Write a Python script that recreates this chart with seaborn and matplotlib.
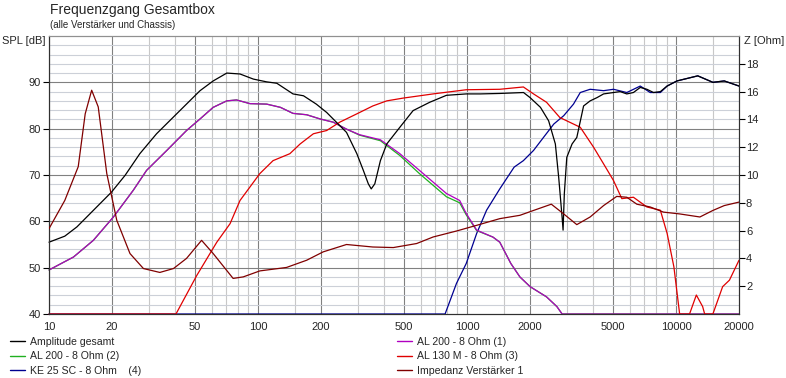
import numpy as np
import pandas as pd
import matplotlib
matplotlib.use("Agg")
import matplotlib.pyplot as plt
import seaborn as sns
from matplotlib.lines import Line2D
from matplotlib.ticker import FixedLocator, NullFormatter, FixedFormatter

# --- data ------------------------------------------------------------------
black_f = [10, 11.9, 13.6, 16, 19.9, 23.1, 27.2, 32.7, 40.8, 52.8, 61, 70.9, 82, 95, 110, 123,
           147, 165, 190, 213, 237, 265, 297, 319, 337, 348, 362, 385, 413, 477, 552, 663, 797,
           991, 1156, 1434, 1863, 2003, 2245, 2456, 2645, 2744, 2849, 2880, 2920, 3000, 3180,
           3350, 3610, 3880, 4185, 4500, 5020, 5400, 5810, 6250, 6740, 7250, 7800, 8410, 9060,
           10100, 12700, 15000, 17000, 20000]
black_db = [55.5, 56.8, 58.8, 62.0, 66.3, 69.9, 74.6, 78.9, 83.2, 88.2, 90.3, 92.0, 91.8, 90.7,
            90.1, 89.8, 87.5, 87.1, 85.3, 83.5, 81.4, 79.2, 74.6, 71.0, 68.1, 67.0, 68.1, 73.1,
            76.7, 80.3, 83.9, 85.7, 87.2, 87.5, 87.5, 87.6, 87.8, 86.7, 84.6, 81.7, 76.7, 69.5,
            60.9, 58.1, 66.0, 73.8, 76.7, 78.1, 84.9, 86.0, 86.7, 87.5, 87.8, 88.0, 87.5, 87.8,
            88.9, 88.5, 87.8, 88.0, 89.2, 90.3, 91.4, 90.0, 90.3, 89.2]

al200_f = [10, 13.1, 16.3, 20.3, 25.3, 29.3, 36.6, 45.5, 52.8, 61, 70.9, 78.9, 91.5, 110, 128,
           147, 171, 198, 229, 265, 306, 385, 477, 592, 797, 922, 991, 1112, 1330, 1434, 1620,
           1790, 2003, 2400, 2690, 2850, 5000, 10000, 20000]
al200_1_db = [49.5, 52.3, 55.9, 60.9, 66.7, 71.0, 75.3, 79.6, 82.1, 84.6, 86.0, 86.2, 85.4, 85.3,
              84.6, 83.3, 83.0, 82.1, 81.4, 79.9, 78.7, 77.6, 74.6, 71.0, 66.0, 64.5, 61.7, 58.1,
              56.6, 55.5, 50.9, 48.0, 45.9, 43.7, 41.6, 40.0, 40.0, 40.0, 40.0]
al200_2_db = [49.5, 52.3, 55.9, 60.9, 66.7, 71.0, 75.3, 79.6, 82.1, 84.6, 86.0, 86.2, 85.4, 85.3,
              84.6, 83.3, 83.0, 82.1, 81.4, 79.9, 78.6, 77.4, 74.2, 70.3, 65.3, 64.0, 61.4, 58.0,
              56.6, 55.5, 50.9, 48.0, 45.9, 43.7, 41.6, 40.0, 40.0, 40.0, 40.0]

al130_f = [10, 40.5, 50.9, 63.5, 73.5, 82, 102, 118, 142, 159, 184, 213, 246, 297, 354, 413, 495,
           688, 991, 1434, 1860, 2080, 2400, 2780, 3480, 4030, 4500, 5020, 5500, 6250, 7250,
           8410, 9060, 9760, 10400, 11600, 12500, 13400, 13700, 15000, 16700, 18000, 20000]
al130_db = [40, 40, 48.3, 55.5, 59.5, 64.5, 70.3, 73.1, 74.6, 76.7, 78.9, 79.6, 81.4, 83.2, 84.9,
            86.0, 86.6, 87.5, 88.4, 88.5, 89.0, 87.5, 85.7, 82.4, 80.3, 76.0, 72.4, 68.8, 64.9,
            65.2, 63.1, 62.4, 57.4, 50.2, 40, 40, 44.1, 41.6, 40, 40, 45.9, 47.3, 51.6]

ke25_f = [10, 785, 890, 991, 1112, 1240, 1434, 1680, 1860, 2080, 2320, 2600, 2900, 3230, 3480,
          3880, 4500, 5020, 5810, 6740, 7520, 8410, 9060, 10100, 12700, 15000, 17000, 20000]
ke25_db = [40, 40, 46.6, 50.9, 57.4, 62.4, 67.0, 71.7, 73.1, 75.3, 78.1, 81.0, 82.8, 85.3, 87.8,
           88.5, 88.2, 88.5, 87.8, 89.2, 87.8, 87.8, 89.2, 90.3, 91.4, 90.0, 90.3, 89.2]

imp_f = [10, 11.9, 13.8, 14.9, 16.0, 17.2, 18.9, 21.1, 24.4, 28.3, 33.9, 39.4, 45.5, 53.7, 61,
         76, 85, 102, 137, 171, 205, 265, 354, 444, 574, 688, 890, 1112, 1434, 1790, 2080, 2530,
         2900, 3350, 3880, 4500, 5200, 5810, 6490, 7520, 8700, 10400, 13000, 15000, 17000, 20000]
imp_ohm = [6.14, 8.17, 10.6, 14.4, 16.1, 14.9, 10.1, 6.74, 4.35, 3.27, 2.99, 3.27, 4.0, 5.3, 4.35,
           2.56, 2.67, 3.1, 3.35, 3.87, 4.47, 5.0, 4.82, 4.78, 5.07, 5.54, 5.97, 6.38, 6.86, 7.1,
           7.45, 7.9, 7.2, 6.43, 6.98, 7.8, 8.46, 8.4, 7.9, 7.7, 7.33, 7.2, 6.98, 7.45, 7.8, 8.05]

x_ticks = [10, 20, 50, 100, 200, 500, 1000, 2000, 5000, 10000, 20000]
x_major_grid = [10, 20, 50, 100, 200, 500, 1000, 2000, 5000, 10000]
x_minor_grid = [30, 40, 60, 70, 80, 90, 150, 300, 400, 600, 700, 800, 900, 1500, 3000, 4000,
                6000, 7000, 8000, 9000, 15000]
spl_ticks = [40, 50, 60, 70, 80, 90]
z_ticks = [2, 4, 6, 8, 10, 12, 14, 16, 18]

# --- long-form table -------------------------------------------------------
spl = pd.concat([
    pd.DataFrame({"f": ke25_f, "dB": ke25_db, "Kurve": "KE 25 SC - 8 Ohm    (4)"}),
    pd.DataFrame({"f": al200_f, "dB": al200_2_db, "Kurve": "AL 200 - 8 Ohm (2)"}),
    pd.DataFrame({"f": al200_f, "dB": al200_1_db, "Kurve": "AL 200 - 8 Ohm (1)"}),
    pd.DataFrame({"f": al130_f, "dB": al130_db, "Kurve": "AL 130 M - 8 Ohm (3)"}),
    pd.DataFrame({"f": black_f, "dB": black_db, "Kurve": "Amplitude gesamt"}),
])
imp = pd.DataFrame({"f": imp_f, "Z": imp_ohm, "Kurve": "Impedanz Verstärker 1"})

palette = {
    "Amplitude gesamt": "#000000",
    "AL 200 - 8 Ohm (1)": "#B000C0",
    "AL 200 - 8 Ohm (2)": "#20B020",
    "AL 130 M - 8 Ohm (3)": "#E00000",
    "KE 25 SC - 8 Ohm    (4)": "#000090",
    "Impedanz Verstärker 1": "#800000",
}

sns.set_style("white")
plt.rcParams["font.family"] = ["Liberation Sans", "DejaVu Sans"]
fs = 8

W, H = 786, 378
fig = plt.figure(figsize=(W / 100, H / 100), dpi=100)
fig.patch.set_facecolor("white")
ax = fig.add_axes([49 / W, 1 - 314 / H, 690 / W, (314 - 36) / H])

ax.set_xscale("log")
ax.set_xlim(10, 20000)
ax.set_ylim(40, 100)

# grid
for v in x_minor_grid:
    ax.axvline(v, color="#C8C8C8", lw=0.8, zorder=0)
for v in x_major_grid:
    ax.axvline(v, color="#808080", lw=0.8, zorder=0)
for v in range(42, 100, 2):
    if v % 10:
        ax.axhline(v, color="#CCD0D8", lw=0.8, zorder=0)
for v in range(50, 100, 10):
    ax.axhline(v, color="#808080", lw=0.8, zorder=0)

lw = 0.9
sns.lineplot(data=spl, x="f", y="dB", hue="Kurve", palette=palette, ax=ax,
             estimator=None, sort=False, lw=lw, legend=False, clip_on=False, zorder=3)

ax2 = ax.twinx()
ax2.set_ylim(0, 20)
sns.lineplot(data=imp, x="f", y="Z", hue="Kurve", palette=palette, ax=ax2,
             estimator=None, sort=False, lw=lw, legend=False, zorder=3)
ax2.set_xlim(10, 20000)

# ticks
ax.xaxis.set_major_locator(FixedLocator(x_ticks))
ax.xaxis.set_major_formatter(FixedFormatter([str(t) for t in x_ticks]))
ax.xaxis.set_minor_locator(FixedLocator([]))
ax.xaxis.set_minor_formatter(NullFormatter())
ax.set_yticks(spl_ticks)
ax.set_yticklabels([str(t) for t in spl_ticks])
ax2.set_yticks(z_ticks)
ax2.set_yticklabels([str(t) for t in z_ticks])
ax.tick_params(axis="x", length=3, width=0.8, color="#000000", labelsize=fs, pad=3)
ax.tick_params(axis="y", length=4, width=0.8, color="#000000", labelsize=fs, pad=2, left=True)
ax2.tick_params(axis="y", length=4, width=0.8, color="#000000", labelsize=fs, pad=1, right=True)
for a in (ax, ax2):
    a.set_xlabel("")
    a.set_ylabel("")
    for s in ("left", "right", "bottom"):
        a.spines[s].set_color("#303030")
        a.spines[s].set_linewidth(0.8)
    a.spines["top"].set_color("#909090")
    a.spines["top"].set_linewidth(0.8)
ax2.patch.set_visible(False)

# texts
fig.text(50 / W, 1 - 10 / H, "Frequenzgang Gesamtbox", fontsize=10, va="center", ha="left")
fig.text(50 / W, 1 - 25 / H, "(alle Verstärker und Chassis)", fontsize=7, va="center", ha="left")
fig.text(2 / W, 1 - 41 / H, "SPL [dB]", fontsize=fs, va="center", ha="left")
fig.text(744 / W, 1 - 41 / H, "Z [Ohm]", fontsize=fs, va="center", ha="left")

# legend in two columns
def handles(names):
    return [Line2D([], [], color=palette[n], lw=1.0) for n in names]

left_names = ["Amplitude gesamt", "AL 200 - 8 Ohm (2)", "KE 25 SC - 8 Ohm    (4)"]
right_names = ["AL 200 - 8 Ohm (1)", "AL 130 M - 8 Ohm (3)", "Impedanz Verstärker 1"]
leg_kw = dict(loc="upper left", frameon=False, fontsize=7.6, handlelength=1.45,
              handletextpad=0.4, labelspacing=0.42, borderpad=0, borderaxespad=0)
fig.legend(handles(left_names), left_names, bbox_to_anchor=(10 / W, 1 - 337 / H), **leg_kw)
fig.legend(handles(right_names), right_names, bbox_to_anchor=(397 / W, 1 - 337 / H), **leg_kw)

fig.savefig("out.png", dpi=100)
